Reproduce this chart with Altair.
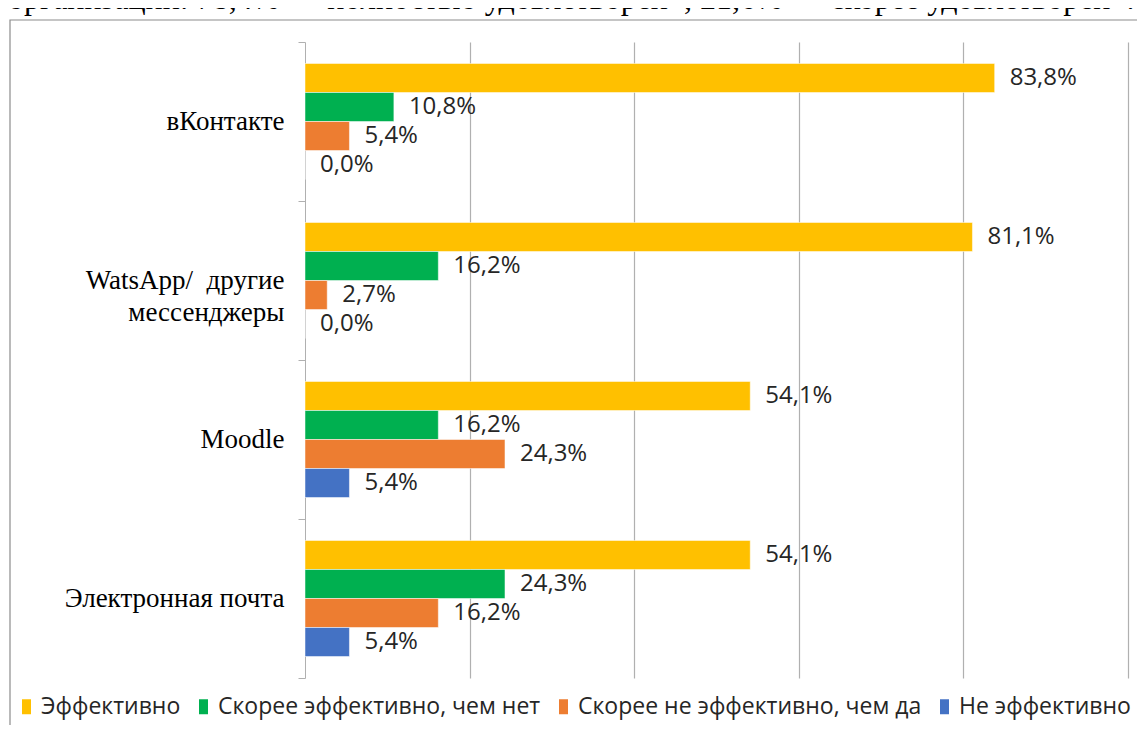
import altair as alt
import pandas as pd

categories = ["вКонтакте", "WatsApp/ другие мессенджеры", "Moodle", "Электронная почта"]
series = ["Эффективно", "Скорее эффективно, чем нет", "Скорее не эффективно, чем да", "Не эффективно"]
colors = ["#FFC000", "#00B050", "#ED7D31", "#4472C4"]

# values per category, in series order
vk = [83.8, 10.8, 5.4, 0.0]
wa = [81.1, 16.2, 2.7, 0.0]
moodle = [54.1, 16.2, 24.3, 5.4]
email = [54.1, 24.3, 16.2, 5.4]

title_text = "организации: 78,4% – «полностью удовлетворен», 21,6% – «скорее удовлетворен»."

rows = []
for cat, vals in zip(categories, [vk, wa, moodle, email]):
    for s, v in zip(series, vals):
        rows.append({"cat": cat, "series": s, "value": v})
df = pd.DataFrame(rows)

y_enc = alt.Y("cat:N", sort=categories, title=None,
              scale=alt.Scale(paddingInner=0, paddingOuter=0),
              axis=alt.Axis(domainColor="#b0b0b0", tickColor="#b0b0b0", tickSize=7,
                            tickBand="extent", labelFont="Liberation Serif", labelFontSize=27,
                            labelColor="black", labelPadding=14, labelLimit=400, labelLineHeight=32,
                            labelExpr="datum.value == 'WatsApp/ другие мессенджеры' ? ['WatsApp/\u00a0 другие', 'мессенджеры\u00a0\u00a0\u00a0\u00a0'] : datum.value"))
yoff_enc = alt.YOffset("series:N", sort=series,
                       scale=alt.Scale(paddingInner=0, paddingOuter=0.74))
x_enc = alt.X("value:Q", title=None, scale=alt.Scale(domain=[0, 100], nice=False),
              axis=alt.Axis(values=[20, 40, 60, 80, 100], labels=False, ticks=False, domain=False,
                            grid=True, gridColor="#b0b0b0", gridWidth=1.2))

bars = alt.Chart(df).mark_bar(stroke="white", strokeWidth=0.5).encode(
    y=y_enc, yOffset=yoff_enc, x=x_enc,
    color=alt.Color("series:N", sort=series, title=None,
                    scale=alt.Scale(domain=series, range=colors),
                    legend=alt.Legend(orient="none", direction="horizontal", columns=4,
                                      legendX=-290, legendY=653, padding=0,
                                      symbolType="M-0.6,-1H0.6V1H-0.6Z", symbolSize=225,
                                      symbolStrokeWidth=0, labelFont="Open Sans", labelFontSize=23,
                                      labelColor="#262626", labelOffset=3, columnPadding=11,
                                      labelLimit=500)),
)

labels = alt.Chart(df).transform_calculate(
    lbl="replace(format(datum.value, '.1f'), '.', ',') + '%'"
).mark_text(align="left", baseline="middle", dx=15, font="Open Sans", fontSize=24,
            color="#262626").encode(
    y=alt.Y("cat:N", sort=categories), yOffset=alt.YOffset("series:N", sort=series),
    x="value:Q", text="lbl:N")

border = alt.Chart(pd.DataFrame({"a": [0]})).mark_rect(
    filled=False, stroke="#8c8c8c", strokeWidth=1.2).encode(
    x=alt.value(-295), x2=alt.value(837), y=alt.value(-22), y2=alt.value(720))

title = alt.Chart(pd.DataFrame({"t": [title_text]})).mark_text(
    align="left", baseline="alphabetic", font="Liberation Serif", fontSize=32, color="black"
).encode(x=alt.value(-297), y=alt.value(-33), text="t:N")

chart = alt.layer(border, title, bars, labels).properties(
    width=823, height=636,
    autosize=alt.AutoSizeParams(type="none"),
    padding={"left": 297, "top": 34, "right": 9, "bottom": 47},
).configure_view(stroke=None)

chart.save("out.html", embed_options={"renderer": "svg", "actions": False})
